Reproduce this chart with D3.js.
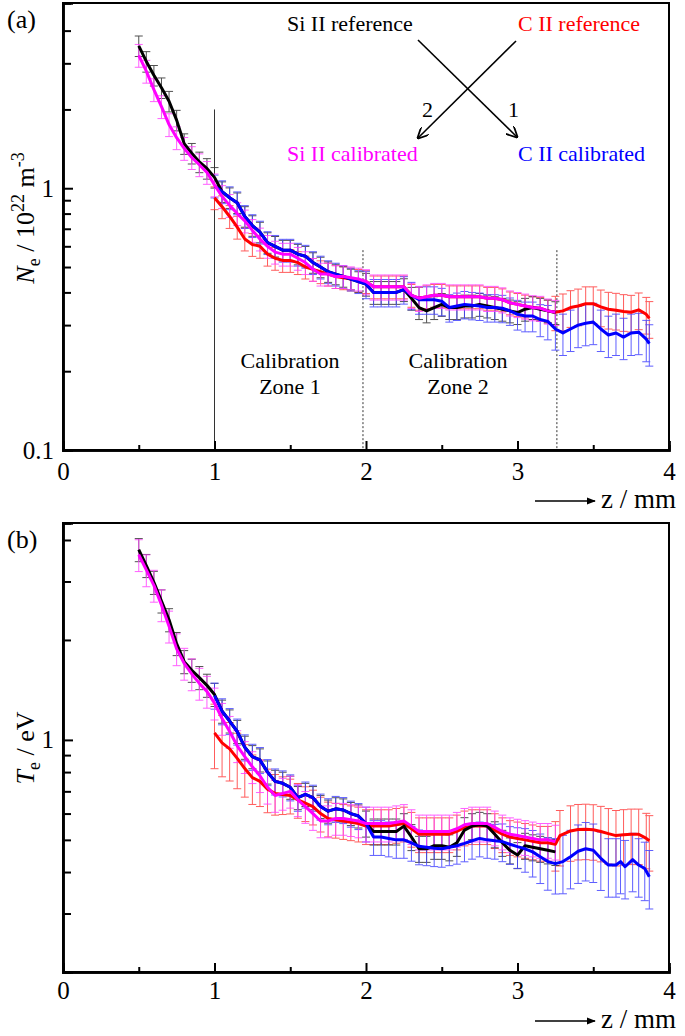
<!DOCTYPE html>
<html>
<head>
<meta charset="utf-8">
<script src="https://cdn.jsdelivr.net/npm/d3@7"></script>
<style>
  body { margin: 0; background: #fff; }
  svg { font-family: "Liberation Serif", "DejaVu Serif", serif; }
</style>
</head>
<body>
<svg width="685" height="1036"></svg>
<script>
// [z (mm), value, relative error]
const neSiRef = [
  [0.50,3.50,0.09],[0.55,3.05,0.09],[0.60,2.70,0.09],[0.65,2.42,0.09],[0.70,2.15,0.09],[0.75,1.82,0.09],
  [0.80,1.48,0.09],[0.85,1.36,0.09],[0.90,1.26,0.09],[0.95,1.19,0.09],[1.00,1.10,0.09],[1.05,0.97,0.09],
  [1.10,0.92,0.09],[1.15,0.88,0.09],[1.20,0.78,0.09],[1.25,0.72,0.09],[1.30,0.68,0.09],[1.35,0.62,0.09],
  [1.40,0.60,0.09],[1.45,0.58,0.09],[1.50,0.58,0.09],[1.55,0.56,0.09],[1.60,0.55,0.09],[1.65,0.52,0.09],
  [1.70,0.50,0.09],[1.75,0.48,0.09],[1.80,0.47,0.09],[1.85,0.46,0.09],[1.90,0.45,0.09],[1.95,0.44,0.09],
  [2.00,0.43,0.10],[2.05,0.40,0.10],[2.10,0.40,0.10],[2.15,0.40,0.10],[2.20,0.40,0.10],[2.25,0.41,0.10],
  [2.30,0.38,0.10],[2.35,0.35,0.10],[2.40,0.34,0.10],[2.45,0.35,0.10],[2.50,0.36,0.10],[2.55,0.35,0.10],
  [2.60,0.35,0.10],[2.65,0.355,0.10],[2.70,0.355,0.10],[2.75,0.36,0.10],[2.80,0.355,0.10],[2.85,0.35,0.10],
  [2.90,0.345,0.10],[2.95,0.34,0.10],[3.00,0.335,0.10],[3.05,0.345,0.10],[3.10,0.35,0.10],[3.15,0.345,0.10],
  [3.20,0.34,0.10],[3.25,0.335,0.10]
];
const neSiCal = [
  [0.50,3.22,0.10],[0.55,2.80,0.10],[0.60,2.38,0.10],[0.65,2.05,0.10],[0.70,1.75,0.10],[0.75,1.56,0.10],
  [0.80,1.42,0.10],[0.85,1.31,0.10],[0.90,1.23,0.10],[0.95,1.15,0.10],[1.00,1.03,0.10],[1.05,0.93,0.10],
  [1.10,0.86,0.10],[1.15,0.80,0.10],[1.20,0.75,0.10],[1.25,0.69,0.10],[1.30,0.64,0.10],[1.35,0.60,0.10],
  [1.40,0.57,0.10],[1.45,0.56,0.10],[1.50,0.56,0.10],[1.55,0.54,0.10],[1.60,0.52,0.10],[1.65,0.49,0.10],
  [1.70,0.47,0.10],[1.75,0.47,0.10],[1.80,0.46,0.10],[1.85,0.46,0.10],[1.90,0.455,0.10],[1.95,0.45,0.10],
  [2.00,0.44,0.11],[2.05,0.42,0.11],[2.10,0.42,0.11],[2.15,0.42,0.11],[2.20,0.42,0.11],[2.25,0.42,0.11],
  [2.30,0.39,0.11],[2.35,0.38,0.11],[2.40,0.385,0.11],[2.45,0.39,0.11],[2.50,0.39,0.11],[2.55,0.385,0.11],
  [2.60,0.385,0.11],[2.65,0.385,0.11],[2.70,0.385,0.11],[2.75,0.385,0.11],[2.80,0.38,0.11],[2.85,0.38,0.11],
  [2.90,0.375,0.11],[2.95,0.365,0.11],[3.00,0.36,0.11],[3.05,0.355,0.11],[3.10,0.35,0.11],[3.15,0.348,0.11],
  [3.20,0.34,0.11],[3.25,0.336,0.11]
];
const neCRef = [
  [1.00,0.92,0.10],[1.05,0.85,0.10],[1.10,0.78,0.10],[1.15,0.71,0.10],[1.20,0.64,0.10],[1.25,0.61,0.10],
  [1.30,0.60,0.10],[1.35,0.56,0.10],[1.40,0.54,0.10],[1.45,0.53,0.10],[1.50,0.53,0.10],[1.55,0.52,0.10],
  [1.60,0.50,0.10],[1.65,0.49,0.10],[1.70,0.48,0.10],[1.75,0.47,0.10],[1.80,0.46,0.10],[1.85,0.455,0.10],
  [1.90,0.45,0.10],[1.95,0.445,0.10],[2.00,0.44,0.10],[2.05,0.42,0.10],[2.10,0.42,0.10],[2.15,0.42,0.10],
  [2.20,0.42,0.10],[2.25,0.42,0.10],[2.30,0.39,0.10],[2.35,0.38,0.10],[2.40,0.385,0.10],[2.45,0.39,0.10],
  [2.50,0.39,0.10],[2.55,0.385,0.10],[2.60,0.385,0.10],[2.65,0.385,0.10],[2.70,0.385,0.10],[2.75,0.385,0.10],
  [2.80,0.38,0.10],[2.85,0.38,0.10],[2.90,0.375,0.10],[2.95,0.365,0.10],[3.00,0.36,0.10],[3.05,0.355,0.10],
  [3.10,0.35,0.10],[3.15,0.348,0.10],[3.20,0.34,0.10],[3.25,0.336,0.15],[3.30,0.34,0.16],[3.35,0.35,0.16],
  [3.40,0.355,0.16],[3.45,0.362,0.16],[3.50,0.362,0.16],[3.55,0.352,0.16],[3.60,0.345,0.16],[3.65,0.342,0.16],
  [3.70,0.338,0.16],[3.75,0.336,0.16],[3.80,0.343,0.16],[3.85,0.33,0.16],[3.87,0.318,0.16]
];
const neCCal = [
  [1.00,1.02,0.10],[1.05,0.97,0.10],[1.10,0.92,0.10],[1.15,0.88,0.10],[1.20,0.78,0.10],[1.25,0.72,0.10],
  [1.30,0.68,0.10],[1.35,0.62,0.10],[1.40,0.60,0.10],[1.45,0.58,0.10],[1.50,0.58,0.10],[1.55,0.56,0.10],
  [1.60,0.55,0.10],[1.65,0.52,0.10],[1.70,0.50,0.10],[1.75,0.48,0.10],[1.80,0.47,0.10],[1.85,0.46,0.10],
  [1.90,0.45,0.10],[1.95,0.44,0.10],[2.00,0.43,0.12],[2.05,0.40,0.12],[2.10,0.40,0.12],[2.15,0.40,0.12],
  [2.20,0.40,0.12],[2.25,0.41,0.12],[2.30,0.39,0.12],[2.35,0.375,0.12],[2.40,0.375,0.12],[2.45,0.375,0.12],
  [2.50,0.37,0.12],[2.55,0.35,0.12],[2.60,0.355,0.12],[2.65,0.36,0.12],[2.70,0.357,0.12],[2.75,0.355,0.12],
  [2.80,0.35,0.12],[2.85,0.35,0.12],[2.90,0.348,0.12],[2.95,0.34,0.12],[3.00,0.33,0.13],[3.05,0.325,0.13],
  [3.10,0.325,0.13],[3.15,0.315,0.14],[3.20,0.31,0.15],[3.25,0.29,0.17],[3.30,0.28,0.18],[3.35,0.29,0.18],
  [3.40,0.30,0.18],[3.45,0.305,0.18],[3.50,0.308,0.18],[3.55,0.29,0.18],[3.60,0.275,0.18],[3.65,0.28,0.18],
  [3.70,0.27,0.18],[3.75,0.28,0.18],[3.80,0.282,0.18],[3.85,0.265,0.18],[3.87,0.255,0.18]
];

const teSiRef = [
  [0.50,3.74,0.08],[0.55,3.35,0.08],[0.60,2.98,0.08],[0.65,2.62,0.08],[0.70,2.30,0.08],[0.75,1.95,0.08],
  [0.80,1.72,0.08],[0.85,1.62,0.08],[0.90,1.54,0.08],[0.95,1.46,0.08],[1.00,1.37,0.08],[1.05,1.22,0.08],
  [1.10,1.14,0.08],[1.15,1.06,0.08],[1.20,0.95,0.08],[1.25,0.89,0.08],[1.30,0.87,0.08],[1.35,0.80,0.08],
  [1.40,0.75,0.08],[1.45,0.74,0.08],[1.50,0.72,0.08],[1.55,0.67,0.08],[1.60,0.685,0.08],[1.65,0.67,0.08],
  [1.70,0.63,0.08],[1.75,0.61,0.08],[1.80,0.62,0.08],[1.85,0.615,0.08],[1.90,0.60,0.08],[1.95,0.59,0.08],
  [2.00,0.56,0.09],[2.05,0.53,0.09],[2.10,0.53,0.09],[2.15,0.53,0.09],[2.20,0.53,0.09],[2.25,0.55,0.09],
  [2.30,0.51,0.09],[2.35,0.47,0.09],[2.40,0.47,0.09],[2.45,0.48,0.09],[2.50,0.48,0.09],[2.55,0.475,0.09],
  [2.60,0.49,0.09],[2.65,0.535,0.09],[2.70,0.55,0.09],[2.75,0.555,0.09],[2.80,0.55,0.09],[2.85,0.52,0.09],
  [2.90,0.49,0.09],[2.95,0.465,0.09],[3.00,0.45,0.09],[3.05,0.48,0.09],[3.10,0.475,0.09],[3.15,0.47,0.09],
  [3.20,0.465,0.09],[3.25,0.46,0.09]
];
const teSiCal = [
  [0.50,3.61,0.11],[0.55,3.25,0.11],[0.60,2.92,0.11],[0.65,2.55,0.11],[0.70,2.20,0.11],[0.75,1.88,0.11],
  [0.80,1.70,0.11],[0.85,1.58,0.11],[0.90,1.48,0.11],[0.95,1.40,0.11],[1.00,1.29,0.11],[1.05,1.16,0.11],
  [1.10,1.06,0.11],[1.15,0.96,0.11],[1.20,0.89,0.11],[1.25,0.83,0.11],[1.30,0.78,0.11],[1.35,0.72,0.11],
  [1.40,0.68,0.11],[1.45,0.69,0.11],[1.50,0.70,0.11],[1.55,0.66,0.11],[1.60,0.63,0.11],[1.65,0.60,0.11],
  [1.70,0.57,0.11],[1.75,0.57,0.11],[1.80,0.58,0.11],[1.85,0.58,0.11],[1.90,0.575,0.11],[1.95,0.57,0.11],
  [2.00,0.56,0.12],[2.05,0.56,0.12],[2.10,0.56,0.12],[2.15,0.56,0.12],[2.20,0.565,0.12],[2.25,0.57,0.12],
  [2.30,0.55,0.12],[2.35,0.53,0.12],[2.40,0.53,0.12],[2.45,0.53,0.12],[2.50,0.53,0.12],[2.55,0.53,0.12],
  [2.60,0.54,0.12],[2.65,0.555,0.12],[2.70,0.56,0.12],[2.75,0.56,0.12],[2.80,0.56,0.12],[2.85,0.545,0.12],
  [2.90,0.53,0.12],[2.95,0.52,0.12],[3.00,0.515,0.12],[3.05,0.51,0.12],[3.10,0.505,0.12],[3.15,0.50,0.12],
  [3.20,0.50,0.12],[3.25,0.494,0.12]
];
const teCRef = [
  [1.00,1.05,0.22],[1.05,0.98,0.21],[1.10,0.94,0.20],[1.15,0.88,0.19],[1.20,0.82,0.18],[1.25,0.77,0.17],
  [1.30,0.75,0.16],[1.35,0.71,0.15],[1.40,0.69,0.14],[1.45,0.685,0.13],[1.50,0.68,0.12],[1.55,0.66,0.12],
  [1.60,0.645,0.12],[1.65,0.63,0.12],[1.70,0.60,0.12],[1.75,0.58,0.12],[1.80,0.575,0.12],[1.85,0.57,0.12],
  [1.90,0.565,0.12],[1.95,0.56,0.12],[2.00,0.55,0.12],[2.05,0.55,0.12],[2.10,0.55,0.12],[2.15,0.55,0.12],
  [2.20,0.555,0.12],[2.25,0.56,0.12],[2.30,0.54,0.12],[2.35,0.52,0.12],[2.40,0.52,0.12],[2.45,0.52,0.12],
  [2.50,0.52,0.12],[2.55,0.52,0.12],[2.60,0.53,0.12],[2.65,0.545,0.12],[2.70,0.55,0.12],[2.75,0.55,0.12],
  [2.80,0.55,0.12],[2.85,0.535,0.12],[2.90,0.52,0.12],[2.95,0.51,0.12],[3.00,0.505,0.12],[3.05,0.50,0.12],
  [3.10,0.495,0.12],[3.15,0.49,0.12],[3.20,0.49,0.12],[3.25,0.485,0.17],[3.28,0.515,0.19],[3.35,0.532,0.19],
  [3.40,0.537,0.19],[3.45,0.538,0.19],[3.50,0.536,0.19],[3.55,0.53,0.19],[3.60,0.522,0.19],[3.65,0.515,0.19],
  [3.70,0.518,0.19],[3.75,0.52,0.19],[3.80,0.52,0.19],[3.85,0.505,0.19],[3.87,0.497,0.19]
];
const teCCal = [
  [1.00,1.36,0.09],[1.05,1.22,0.09],[1.10,1.14,0.09],[1.15,1.06,0.09],[1.20,0.95,0.09],[1.25,0.89,0.09],
  [1.30,0.87,0.09],[1.35,0.80,0.09],[1.40,0.75,0.09],[1.45,0.74,0.09],[1.50,0.72,0.09],[1.55,0.67,0.09],
  [1.60,0.685,0.09],[1.65,0.67,0.09],[1.70,0.63,0.09],[1.75,0.61,0.09],[1.80,0.62,0.09],[1.85,0.615,0.09],
  [1.90,0.60,0.09],[1.95,0.59,0.09],[2.00,0.56,0.12],[2.05,0.51,0.12],[2.10,0.51,0.12],[2.15,0.505,0.12],
  [2.20,0.50,0.12],[2.25,0.50,0.12],[2.30,0.49,0.12],[2.35,0.478,0.12],[2.40,0.475,0.12],[2.45,0.472,0.12],
  [2.50,0.47,0.12],[2.55,0.475,0.12],[2.60,0.48,0.12],[2.65,0.488,0.12],[2.70,0.497,0.12],[2.75,0.505,0.12],
  [2.80,0.50,0.12],[2.85,0.497,0.12],[2.90,0.494,0.13],[2.95,0.485,0.13],[3.00,0.477,0.14],[3.05,0.47,0.15],
  [3.10,0.46,0.16],[3.15,0.445,0.17],[3.20,0.43,0.18],[3.25,0.424,0.19],[3.30,0.43,0.20],[3.35,0.445,0.20],
  [3.40,0.462,0.20],[3.45,0.47,0.20],[3.50,0.465,0.20],[3.55,0.44,0.20],[3.60,0.42,0.20],[3.65,0.42,0.20],
  [3.68,0.43,0.20],[3.71,0.415,0.20],[3.76,0.436,0.20],[3.80,0.42,0.20],[3.84,0.41,0.20],[3.87,0.387,0.20]
];

const xTicks = [0, 1, 2, 3, 4];
const xMinor = [0.5, 1.5, 2.5, 3.5];
const neMajor = [0.1, 1];
const neMinor = [0.2, 0.3, 0.4, 0.5, 0.6, 0.7, 0.8, 0.9, 2, 3, 4];
const teMajor = [1];
const teMinor = [0.3, 0.4, 0.5, 0.6, 0.7, 0.8, 0.9, 2, 3, 4];

const svg = d3.select('svg');
const left = 63, right = 669;

// series styles: line colour, error bar colour
const styles = {
  siCal: { line: '#ff00ff', bar: '#ff44ff' },
  cRef:  { line: '#ff0000', bar: '#ff4040' },
  cCal:  { line: '#0000ff', bar: '#4444ff' },
  siRef: { line: '#000000', bar: '#333333' }
};

const x = d3.scaleLinear().domain([0, 4]).range([left, right]);

const defs = svg.append('defs');
defs.append('marker')
  .attr('id', 'arrow')
  .attr('viewBox', '0 0 10 10')
  .attr('refX', 9).attr('refY', 5)
  .attr('markerWidth', 7).attr('markerHeight', 7)
  .attr('orient', 'auto')
  .append('path')
  .attr('d', 'M0,0 L10,5 L0,10')
  .attr('fill', 'none')
  .attr('stroke', '#000')
  .attr('stroke-width', 1.6);
defs.append('marker')
  .attr('id', 'arrowFill')
  .attr('viewBox', '0 0 10 10')
  .attr('refX', 9).attr('refY', 5)
  .attr('markerWidth', 6).attr('markerHeight', 6)
  .attr('orient', 'auto')
  .append('path')
  .attr('d', 'M0,1 L10,5 L0,9 Z')
  .attr('fill', '#000');

function panel(cfg) {
  const g = svg.append('g');
  const y = d3.scaleLog().domain(cfg.domain).range([cfg.bottom, cfg.top]);

  // frame
  g.append('rect')
    .attr('x', left).attr('y', cfg.top)
    .attr('width', right - left).attr('height', cfg.bottom - cfg.top)
    .attr('fill', 'none').attr('stroke', '#000').attr('stroke-width', 2);

  // extra lines drawn behind data
  if (cfg.under) cfg.under(g, y);

  // --- data ---
  const line = d3.line().x(d => x(d[0])).y(d => y(d[1]));
  cfg.series.forEach(s => {
    const st = styles[s.style];
    const bars = g.append('g')
      .attr('stroke', st.bar).attr('stroke-width', 1).attr('opacity', 0.85);
    s.data.forEach(d => {
      const px = x(d[0]);
      const y1 = y(d[1] * (1 + d[2])), y2 = y(d[1] * (1 - d[2]));
      bars.append('line').attr('x1', px).attr('x2', px).attr('y1', y1).attr('y2', y2);
      bars.append('line').attr('x1', px - 4).attr('x2', px + 4).attr('y1', y1).attr('y2', y1);
      bars.append('line').attr('x1', px - 4).attr('x2', px + 4).attr('y1', y2).attr('y2', y2);
    });
  });
  cfg.series.forEach(s => {
    g.append('path')
      .datum(s.data)
      .attr('d', line)
      .attr('fill', 'none')
      .attr('stroke', styles[s.style].line)
      .attr('stroke-width', 3)
      .attr('stroke-linejoin', 'round');
  });

  // --- axes ---
  g.append('g')
    .attr('transform', `translate(0,${cfg.bottom})`)
    .call(d3.axisBottom(x).tickValues(xTicks).tickFormat(d3.format('d')).tickSize(-9).tickPadding(cfg.xPad));
  g.append('g')
    .attr('transform', `translate(0,${cfg.bottom})`)
    .call(d3.axisBottom(x).tickValues(xMinor).tickFormat('').tickSize(-5));
  g.append('g')
    .attr('transform', `translate(${left},0)`)
    .call(d3.axisLeft(y).tickValues(cfg.major).tickFormat(d => d >= 1 ? d3.format('d')(d) : d).tickSize(-10).tickPadding(9));
  g.append('g')
    .attr('transform', `translate(${left},0)`)
    .call(d3.axisLeft(y).tickValues(cfg.minor).tickFormat('').tickSize(-8));

  g.selectAll('.domain').attr('stroke', '#000').attr('stroke-width', 2.5);
  g.selectAll('.tick line').attr('stroke', '#000').attr('stroke-width', 2);
  g.selectAll('.tick text')
    .attr('fill', '#000')
    .style('font-family', '"Liberation Serif", serif')
    .style('font-size', '25px');

  // z / mm label with arrow
  const lab = g.append('g');
  lab.append('line')
    .attr('x1', 535).attr('x2', 595)
    .attr('y1', cfg.bottom + cfg.zlabDy - 7).attr('y2', cfg.bottom + cfg.zlabDy - 7)
    .attr('stroke', '#000').attr('stroke-width', 1.5)
    .attr('marker-end', 'url(#arrowFill)');
  lab.append('text')
    .attr('x', 601).attr('y', cfg.bottom + cfg.zlabDy)
    .style('font-size', '27px')
    .text('z / mm');

  // panel letter
  g.append('text')
    .attr('x', 7).attr('y', cfg.top + 25)
    .style('font-size', '26px')
    .text(cfg.letter);

  // y label
  const yl = g.append('text')
    .attr('transform', `translate(${cfg.ylabelX},${cfg.ylabelY}) rotate(-90)`)
    .attr('text-anchor', 'middle')
    .style('font-size', '26px');
  cfg.ylabel(yl);

  return { g, y };
}

// --- Panel (a) ---
const pa = panel({
  top: 3, bottom: 450, domain: [0.1, 5.1], zlabDy: 58, xPad: 12,
  major: neMajor, minor: neMinor, letter: '(a)',
  ylabelX: 34, ylabelY: 218,
  series: [
    { style: 'cRef', data: neCRef },
    { style: 'siRef', data: neSiRef },
    { style: 'cCal', data: neCCal },
    { style: 'siCal', data: neSiCal }
  ],
  under: (g, y) => {
    g.append('line')
      .attr('x1', x(1)).attr('x2', x(1))
      .attr('y1', y(2.0)).attr('y2', y(0.1))
      .attr('stroke', '#333').attr('stroke-width', 1);
    [1.98, 3.26].forEach(z => {
      g.append('line')
        .attr('x1', x(z)).attr('x2', x(z))
        .attr('y1', y(0.58)).attr('y2', y(0.1))
        .attr('stroke', '#333').attr('stroke-width', 1)
        .attr('stroke-dasharray', '2,2');
    });
  },
  ylabel: t => {
    t.append('tspan').style('font-style', 'italic').text('N');
    t.append('tspan').attr('dy', 6).style('font-size', '18px').text('e');
    t.append('tspan').attr('dy', -6).text(' / 10');
    t.append('tspan').attr('dy', -10).style('font-size', '18px').text('22');
    t.append('tspan').attr('dy', 10).text(' m');
    t.append('tspan').attr('dy', -10).style('font-size', '18px').text('-3');
  }
});

// zone labels
const zoneText = [
  { x: 290, lines: ['Calibration', 'Zone 1'] },
  { x: 458, lines: ['Calibration', 'Zone 2'] }
];
zoneText.forEach(zt => {
  zt.lines.forEach((s, i) => {
    pa.g.append('text')
      .attr('x', zt.x).attr('y', 368 + i * 26)
      .attr('text-anchor', 'middle')
      .style('font-size', '22px')
      .text(s);
  });
});

// calibration cross annotation
const ann = pa.g.append('g').style('font-size', '22px');
ann.append('text').attr('x', 287).attr('y', 31).attr('fill', '#000').text('Si II reference');
ann.append('text').attr('x', 518).attr('y', 31).attr('fill', '#ff0000').text('C II reference');
ann.append('text').attr('x', 287).attr('y', 161).attr('fill', '#ff00ff').text('Si II calibrated');
ann.append('text').attr('x', 518).attr('y', 161).attr('fill', '#0000ff').text('C II calibrated');
ann.append('text').attr('x', 422).attr('y', 117).text('2');
ann.append('text').attr('x', 508).attr('y', 117).text('1');
ann.append('line')
  .attr('x1', 418).attr('y1', 40).attr('x2', 517).attr('y2', 137)
  .attr('stroke', '#000').attr('stroke-width', 1.6).attr('marker-end', 'url(#arrow)');
ann.append('line')
  .attr('x1', 516).attr('y1', 41).attr('x2', 418).attr('y2', 138)
  .attr('stroke', '#000').attr('stroke-width', 1.6).attr('marker-end', 'url(#arrow)');

// --- Panel (b) ---
panel({
  top: 523, bottom: 972, domain: [0.2, 4.5], zlabDy: 56, xPad: 9,
  major: teMajor, minor: teMinor, letter: '(b)',
  ylabelX: 34, ylabelY: 748,
  series: [
    { style: 'cRef', data: teCRef },
    { style: 'siRef', data: teSiRef },
    { style: 'cCal', data: teCCal },
    { style: 'siCal', data: teSiCal }
  ],
  ylabel: t => {
    t.append('tspan').style('font-style', 'italic').text('T');
    t.append('tspan').attr('dy', 6).style('font-size', '18px').text('e');
    t.append('tspan').attr('dy', -6).text(' / eV');
  }
});
</script>
</body>
</html>
